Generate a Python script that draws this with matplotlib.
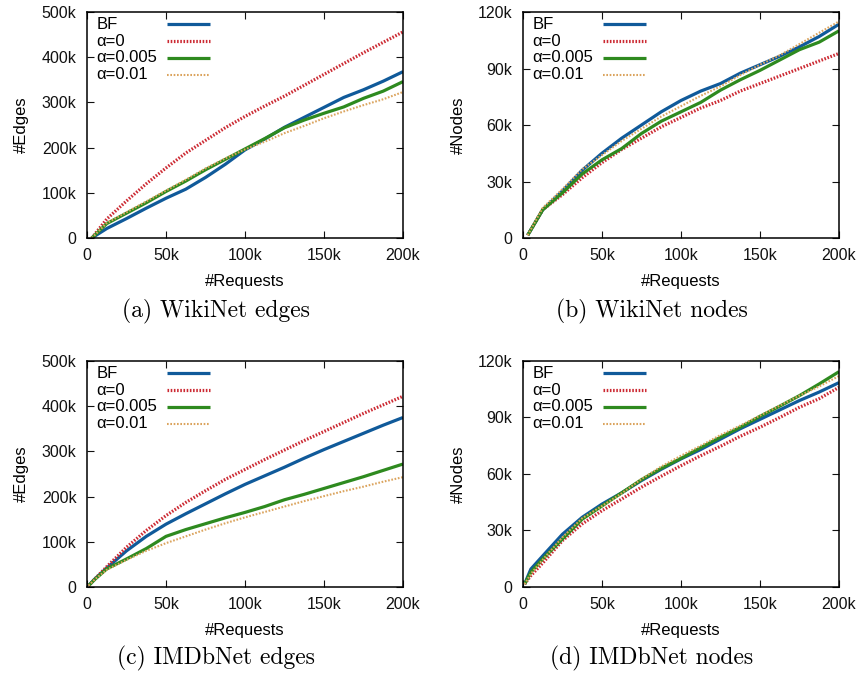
import matplotlib
matplotlib.use("Agg")
import matplotlib.pyplot as plt
from matplotlib.ticker import FuncFormatter

plt.rcParams['font.family'] = ['Liberation Sans', 'DejaVu Sans']

# x positions (number of requests), values in thousands
x_wiki = [3, 12.5, 25, 37.5, 50, 62.5, 75, 87.5, 100, 112.5, 125, 137.5, 150, 162.5, 175, 187.5, 200]
x_imdb = [1, 5, 12.5, 25, 37.5, 50, 62.5, 75, 87.5, 100, 112.5, 125, 137.5, 150, 162.5, 175, 187.5, 200]

# (a) WikiNet edges (k)
wiki_edges_bf = [0, 21, 43, 66, 88, 108, 134, 163, 195, 219, 245, 267, 289, 311, 328, 347, 368]
wiki_edges_a0 = [0, 42, 82, 120, 155, 188, 216, 244, 269, 292, 314, 338, 362, 386, 410, 433, 456]
wiki_edges_a005 = [0, 32, 55, 78, 103, 126, 151, 174, 197, 220, 244, 261, 276, 290, 309, 325, 346]
wiki_edges_a01 = [0, 33, 57, 81, 105, 129, 154, 176, 196, 213, 232, 248, 265, 280, 294, 307, 323]

# (b) WikiNet nodes (k)
wiki_nodes_bf = [1.5, 15, 25, 36, 45, 53, 60, 67, 73, 78, 82, 87.5, 92, 96.5, 101.5, 107, 113.5]
wiki_nodes_a0 = [1.5, 15, 23, 32, 40, 47, 53, 59, 64, 69, 73, 78, 82, 86, 90, 94, 98]
wiki_nodes_a005 = [1.5, 15, 24, 34, 41.5, 47.5, 55.5, 62, 67, 72, 78.5, 84, 89, 94.5, 100, 104, 110]
wiki_nodes_a01 = [1.5, 16, 26, 36.5, 44, 51.5, 58, 64.5, 70, 75.5, 80.5, 86.5, 92, 97, 103, 109, 115]

# (c) IMDbNet edges (k)
imdb_edges_bf = [3, 18, 42, 80, 112, 139, 162, 184, 206, 227, 246, 265, 285, 304, 322, 340, 358, 375]
imdb_edges_a0 = [3, 18, 45, 88, 125, 158, 187, 213, 238, 260, 282, 303, 324, 344, 364, 384, 403, 422]
imdb_edges_a005 = [3, 17, 40, 62, 85, 112, 127, 140, 153, 165, 178, 193, 205, 218, 231, 244, 258, 272]
imdb_edges_a01 = [3, 17, 38, 60, 80, 97, 112, 127, 141, 154, 166, 178, 190, 201, 212, 222, 233, 243]

# (d) IMDbNet nodes (k)
imdb_nodes_bf = [1.5, 9.5, 16.5, 28, 37, 44, 50, 56.5, 62.5, 68, 73, 78.5, 84, 89, 94, 99, 103.5, 108.5]
imdb_nodes_a0 = [1.5, 6, 12.7, 24.6, 33.5, 40.5, 46.7, 53, 58.8, 64.4, 69.7, 74.7, 80, 84.8, 90, 95.4, 100, 106]
imdb_nodes_a005 = [1.5, 7.8, 14.9, 25.5, 36, 43, 50, 57, 63, 68.3, 74, 79.5, 84.8, 90.6, 96, 101.6, 107.8, 114.3]
imdb_nodes_a01 = [1.5, 7, 14.5, 26.4, 36.5, 43, 49.7, 57.3, 64, 69.7, 75, 80.7, 85.7, 91, 96.3, 101.6, 106.5, 112]

labels = ['BF', '\u03b1=0', '\u03b1=0.005', '\u03b1=0.01']
captions = ['(a) WikiNet edges', '(b) WikiNet nodes', '(c) IMDbNet edges', '(d) IMDbNet nodes']

# gnuplot-like line styles
styles = [
    dict(color='#105a9a', lw=2.3, ls='-'),
    dict(color='#cc2a33', lw=2.3, ls=(0, (0.5, 0.5))),
    dict(color='#2e8a1f', lw=2.3, ls='-'),
    dict(color='#dba45e', lw=1.5, ls=(0, (0.8, 0.8))),
]

panels = [
    (x_wiki, [wiki_edges_bf, wiki_edges_a0, wiki_edges_a005, wiki_edges_a01], 500, 100, '#Edges'),
    (x_wiki, [wiki_nodes_bf, wiki_nodes_a0, wiki_nodes_a005, wiki_nodes_a01], 120, 30, '#Nodes'),
    (x_imdb, [imdb_edges_bf, imdb_edges_a0, imdb_edges_a005, imdb_edges_a01], 500, 100, '#Edges'),
    (x_imdb, [imdb_nodes_bf, imdb_nodes_a0, imdb_nodes_a005, imdb_nodes_a01], 120, 30, '#Nodes'),
]

# axes boxes in figure fractions
lefts = [0.1012, 0.6081, 0.1012, 0.6081]
bottoms = [0.6474, 0.6474, 0.1304, 0.1304]
w, h = 0.3674, 0.3348
cap_pos = [(0.251, 0.538), (0.758, 0.538), (0.251, 0.025), (0.758, 0.025)]

kfmt = FuncFormatter(lambda v, p: '0' if v == 0 else '%dk' % int(round(v)))

fig = plt.figure(figsize=(8.6, 6.75), dpi=100)

for i, (xs, series, ymax, ystep, ylab) in enumerate(panels):
    ax = fig.add_axes([lefts[i], bottoms[i], w, h])
    for ys, st in zip(series, styles):
        ax.plot(xs, ys, solid_capstyle='butt', dash_capstyle='butt', **st)
    ax.set_xlim(0, 200)
    ax.set_ylim(0, ymax)
    ax.set_xticks([0, 50, 100, 150, 200])
    ax.set_yticks([ystep * k for k in range(int(round(ymax / ystep)) + 1)])
    ax.xaxis.set_major_formatter(kfmt)
    ax.yaxis.set_major_formatter(kfmt)
    ax.tick_params(direction='in', length=5, width=0.8, top=True, right=True,
                   labelsize=11.5, colors='#111111')
    ax.tick_params(axis='x', pad=7)
    ax.tick_params(axis='y', pad=7.5)
    for s in ax.spines.values():
        s.set_linewidth(1.1)
    ax.set_xlabel('#Requests', fontsize=12, labelpad=8)
    ax.set_ylabel(ylab, fontsize=12, labelpad=9)

    # gnuplot-style key: label on the left, sample line on the right
    for j, (lab, st) in enumerate(zip(labels, styles)):
        yy = 0.945 - j * 0.074
        ax.text(0.03, yy, lab, transform=ax.transAxes, ha='left', va='center', fontsize=12)
        ax.plot([0.253, 0.389], [yy, yy], transform=ax.transAxes,
                solid_capstyle='butt', dash_capstyle='butt', **st)

    fig.text(cap_pos[i][0], cap_pos[i][1], captions[i], ha='center', va='center',
             fontsize=17, family='cmr10')

fig.savefig('out.png', dpi=100)
